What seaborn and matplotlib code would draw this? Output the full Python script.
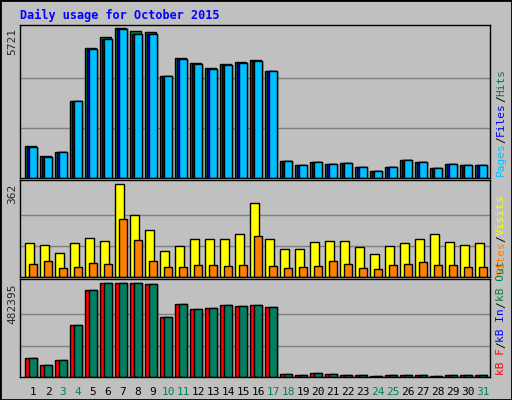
import matplotlib
matplotlib.use("Agg")
import matplotlib.pyplot as plt
import seaborn as sns
import numpy as np

sns.set_style("white")
plt.rcParams['font.family'] = ['DejaVu Sans Mono']

days = list(range(1, 32))
hits = [1237, 850, 1005, 2938, 4948, 5373, 5721, 5600, 5580, 3904, 4561, 4368, 4213, 4330, 4407, 4484, 4097,
        657, 502, 618, 541, 580, 425, 270, 425, 696, 618, 387, 541, 502, 502]
files = [1200, 820, 990, 2930, 4930, 5300, 5700, 5490, 5480, 3880, 4540, 4360, 4150, 4310, 4380, 4450, 4090,
         640, 490, 600, 530, 570, 410, 260, 410, 680, 600, 380, 530, 490, 490]
pages = [1200, 820, 990, 2930, 4930, 5300, 5700, 5490, 5480, 3880, 4540, 4360, 4150, 4310, 4380, 4450, 4090,
         640, 490, 600, 530, 570, 410, 260, 410, 680, 600, 380, 530, 490, 490]
visits = [131, 123, 95, 131, 151, 139, 362, 239, 183, 99, 119, 147, 147, 147, 167, 286, 147,
          107, 107, 135, 139, 139, 115, 91, 119, 131, 147, 167, 135, 123, 131]
sites = [52, 64, 36, 40, 56, 52, 227, 143, 64, 40, 40, 48, 48, 44, 48, 159, 44,
         36, 40, 44, 64, 52, 36, 32, 48, 52, 60, 48, 48, 40, 40]
kb_f = [95420, 63600, 84800, 265000, 445000, 482395, 482395, 482395, 477000, 307000, 376000, 350000, 355000,
        371000, 366000, 371000, 360000, 16000, 10600, 21200, 16000, 10600, 10600, 5300, 10600, 10600, 10600,
        5300, 10600, 10600, 10600]
kb_out = kb_f
weekend = {3, 4, 10, 11, 17, 18, 24, 25, 31}

W, H = 512, 400
fig = plt.figure(figsize=(W/100, H/100), dpi=100, facecolor='#c0c0c0')
def ax_at(x0, y0, x1, y1):
    return fig.add_axes([x0/W, 1-y1/H, (x1-x0)/W, (y1-y0)/H])

x = np.array(days, dtype=float)
axes = [ax_at(20, 25, 490, 178), ax_at(20, 180, 490, 277), ax_at(20, 279, 490, 377)]
for a in axes:
    a.set_facecolor('#c0c0c0')
    a.set_xlim(0.13, 31.47)
    a.set_xticks([]); a.set_yticks([])
    for s in a.spines.values():
        s.set_color('black'); s.set_linewidth(1)

a = axes[0]
a.set_ylim(0, 5721*1.02)
for g in (5721/3, 5721*2/3):
    a.axhline(g, color='#808080', lw=1, zorder=0)
kw = dict(align='edge', edgecolor='black', linewidth=1)
a.bar(x-0.53, hits, width=0.75, color='#008040', **kw)
a.bar(x-0.4, files, width=0.65, color='#0000ff', **kw)
a.bar(x-0.27, pages, width=0.53, color='#00c0ff', **kw)

a = axes[1]
a.set_ylim(0, 362*1.04)
for g in (362/3, 362*2/3):
    a.axhline(g, color='#808080', lw=1, zorder=0)
a.bar(x-0.53, visits, width=0.6, color='#ffff00', **kw)
a.bar(x-0.27, sites, width=0.53, color='#ff8000', **kw)

a = axes[2]
a.set_ylim(0, 482395*1.04)
for g in (482395/3, 482395*2/3):
    a.axhline(g, color='#808080', lw=1, zorder=0)
a.bar(x-0.53, kb_f, width=0.8, color='#ff0000', **kw)
a.bar(x-0.27, kb_out, width=0.53, color='#008060', **kw)
for d in days:
    a.text(d, -0.1, str(d), transform=a.get_xaxis_transform(), ha='center', va='top',
           fontsize=8, color='#008060' if d in weekend else 'black')

fig.text(20/W, 1-15/H, "Daily usage for October 2015", color='#0000ff', fontsize=8.5,
         fontweight='bold', va='center', ha='left')

for lab, ytop in (("5721", 28), ("362", 184), ("482395", 284)):
    fig.text(12/W, 1-ytop/H, lab, rotation=90, ha='center', va='top', fontsize=8)

def side(parts, ybottom, fs=8):
    y = ybottom
    step = fs * 0.602 * 100 / 72
    for txt, col in parts:
        fig.text(501/W, 1-y/H, txt, rotation=90, ha='center', va='bottom', fontsize=fs, color=col)
        y -= step*len(txt)

side([("Pages", '#00c0ff'), ("/", 'black'), ("Files", '#0000ff'), ("/", 'black'), ("Hits", '#008040')], 176)
side([("Sites", '#ff8000'), ("/", 'black'), ("Visits", '#ffff00')], 275)
side([("kB F", '#ff0000'), ("/", 'black'), ("kB In", '#0000ff'), ("/", 'black'), ("kB Out", '#008040')], 375)

fig.patches.append(plt.Rectangle((0, 0), 1, 1, transform=fig.transFigure, fill=False,
                                 edgecolor='black', lw=2))
fig.savefig("out.png", dpi=100, facecolor=fig.get_facecolor())
